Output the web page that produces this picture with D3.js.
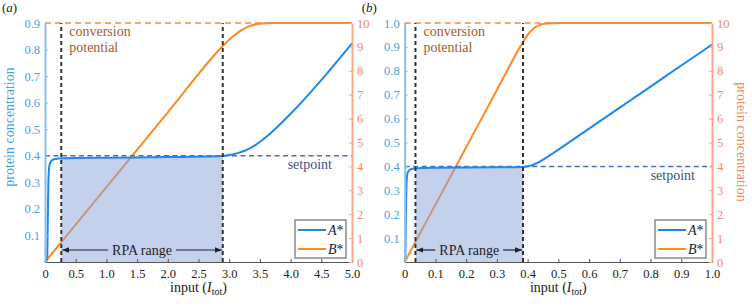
<!DOCTYPE html>
<html>
<head>
<meta charset="utf-8">
<script src="https://cdn.jsdelivr.net/npm/d3@7"></script>
<style>
  body { margin: 0; background: #fff; }
  svg, svg text { font-family: "Liberation Serif", "Times New Roman", serif; }
  svg { display: block; }
</style>
</head>
<body>
<div id="chart"></div>
<script>
const width = 752
const height = 306
const serif = '"Liberation Serif", "Times New Roman", serif'

// panel (a): input 0..5
const aInputA = [0, 0.035, 0.045, 0.055, 0.07, 0.1, 0.15, 0.3, 1.0, 2.0, 2.8, 2.95, 3.05, 3.15, 3.25, 3.35, 3.45, 3.55, 3.65, 3.8, 4.0, 4.5, 5.0]
const aValueA = [0, 0.01, 0.15, 0.3, 0.36, 0.38, 0.387, 0.391, 0.393, 0.395, 0.398, 0.401, 0.405, 0.411, 0.419, 0.43, 0.444, 0.461, 0.48, 0.512, 0.558, 0.685, 0.823]
const aInputB = [0, 1.0, 2.0, 2.9, 3.0, 3.1, 3.2, 3.3, 3.4, 3.5, 3.7, 4.0, 5.0]
const aValueB = [0, 3.13, 6.26, 9.05, 9.3, 9.52, 9.7, 9.84, 9.93, 9.97, 10, 10, 10]
const aRpa = [0.265, 2.895]
const aXTicks = [0, 0.5, 1.0, 1.5, 2.0, 2.5, 3.0, 3.5, 4.0, 4.5, 5.0]
const aLeftTicks = [0.1, 0.2, 0.3, 0.4, 0.5, 0.6, 0.7, 0.8, 0.9]

// panel (b): input 0..1
const bInputA = [0, 0.002, 0.004, 0.006, 0.009, 0.014, 0.022, 0.04, 0.1, 0.2, 0.3, 0.38, 0.4, 0.42, 0.44, 0.46, 0.48, 0.5, 0.6, 0.7, 0.8, 0.9, 1.0]
const bValueA = [0, 0.03, 0.2, 0.33, 0.37, 0.383, 0.389, 0.392, 0.394, 0.395, 0.396, 0.398, 0.401, 0.408, 0.42, 0.436, 0.453, 0.47, 0.558, 0.646, 0.734, 0.822, 0.91]
const bInputB = [0, 0.1, 0.2, 0.3, 0.385, 0.4, 0.42, 0.44, 0.46, 0.5, 1.0]
const bValueB = [0, 2.4, 4.8, 7.2, 9.2, 9.5, 9.78, 9.92, 9.98, 10, 10]
const bRpa = [0.035, 0.385]
const bXTicks = [0, 0.1, 0.2, 0.3, 0.4, 0.5, 0.6, 0.7, 0.8, 0.9, 1.0]
const bLeftTicks = [0.1, 0.2, 0.3, 0.4, 0.5, 0.6, 0.7, 0.8, 0.9, 1.0]

const rightTicks = [0, 1, 2, 3, 4, 5, 6, 7, 8, 9, 10]
const setpoint = 0.4
const conversionPotential = 10
const seriesNames = ['A', 'B']

const cA = '#1f87ee'
const cB = '#ff8a1f'
const cLeft = '#86c0e8'
const cLeftText = '#4a9fdc'
const cRight = '#f6a887'
const cRightText = '#f08a66'

const svg = d3.select('#chart').append('svg')
    .attr('width', width)
    .attr('height', height)
    .attr('font-family', serif)

const defs = svg.append('defs')
defs.append('marker')
    .attr('id', 'arrow')
    .attr('viewBox', '0 0 10 10')
    .attr('refX', 10).attr('refY', 5)
    .attr('markerWidth', 7).attr('markerHeight', 7)
    .attr('markerUnits', 'userSpaceOnUse')
    .attr('orient', 'auto-start-reverse')
    .append('path')
    .attr('d', 'M0,1 L10,5 L0,9 Z')
    .attr('fill', '#222')

function panel({ id, tag, left, right, top, bottom, xMax, yMax, inA, valA, inB, valB, rpa,
                 xTicks, leftTicks, titleSide, titleY, setpointRight }) {
    const x = d3.scaleLinear().domain([0, xMax]).range([left, right])
    const yL = d3.scaleLinear().domain([0, yMax]).range([bottom, top])
    const yR = d3.scaleLinear().domain([0, 10]).range([bottom, top])
    const g = svg.append('g').attr('class', 'panel-' + id)

    const ptsA = inA.map((v, i) => [v, valA[i]])
    const ptsB = inB.map((v, i) => [v, valB[i]])

    // B* line (under the shade)
    g.append('path')
        .datum(ptsB)
        .attr('fill', 'none')
        .attr('stroke', cB)
        .attr('stroke-width', 2)
        .attr('d', d3.line().x(d => x(d[0])).y(d => yR(d[1])).curve(d3.curveMonotoneX))

    // RPA shaded area under A*
    defs.append('clipPath').attr('id', 'clip-' + id)
        .append('rect')
        .attr('x', x(rpa[0])).attr('y', top)
        .attr('width', x(rpa[1]) - x(rpa[0])).attr('height', bottom - top)
    g.append('path')
        .datum(ptsA)
        .attr('clip-path', `url(#clip-${id})`)
        .attr('fill', '#8aa4dc')
        .attr('fill-opacity', 0.5)
        .attr('d', d3.area().x(d => x(d[0])).y0(bottom).y1(d => yL(d[1])).curve(d3.curveMonotoneX))

    // setpoint
    g.append('line')
        .attr('x1', x(0)).attr('x2', x(xMax))
        .attr('y1', yL(setpoint)).attr('y2', yL(setpoint))
        .attr('stroke', '#4a6cc4').attr('stroke-width', 1.5)
        .attr('stroke-dasharray', '5,3.5')
    // conversion potential
    g.append('line')
        .attr('x1', x(0)).attr('x2', x(xMax))
        .attr('y1', yR(conversionPotential)).attr('y2', yR(conversionPotential))
        .attr('stroke', '#f48a3c').attr('stroke-width', 1.5)
        .attr('stroke-dasharray', '6,4')

    // A* line
    g.append('path')
        .datum(ptsA)
        .attr('fill', 'none')
        .attr('stroke', cA)
        .attr('stroke-width', 2)
        .attr('d', d3.line().x(d => x(d[0])).y(d => yL(d[1])).curve(d3.curveMonotoneX))

    // RPA bounds
    g.selectAll('line.rpa').data(rpa).join('line')
        .attr('class', 'rpa')
        .attr('x1', d => x(d)).attr('x2', d => x(d))
        .attr('y1', bottom).attr('y2', top)
        .attr('stroke', '#333').attr('stroke-width', 2)
        .attr('stroke-dasharray', '4,3')

    // axes
    const fmt = d => d === 0 ? '0' : d3.format('.1f')(d)
    const ax = g.append('g')
        .attr('transform', `translate(0,${bottom})`)
        .call(d3.axisBottom(x).tickValues(xTicks).tickFormat(fmt).tickSize(-3).tickPadding(7))
        .attr('font-family', serif).attr('font-size', 12.5)
    ax.select('.domain').attr('stroke', '#555').attr('stroke-width', 1)
    ax.selectAll('.tick line').attr('stroke', '#555')
    ax.selectAll('text').attr('fill', '#222')

    const al = g.append('g')
        .attr('transform', `translate(${left},0)`)
        .call(d3.axisLeft(yL).tickValues(leftTicks).tickFormat(d3.format('.1f')).tickSize(-3).tickSizeOuter(0).tickPadding(5))
        .attr('font-family', serif).attr('font-size', 12.5)
    al.select('.domain').attr('stroke', cLeft).attr('stroke-width', 2)
    al.selectAll('.tick line').attr('stroke', cLeft)
    al.selectAll('text').attr('fill', cLeftText)

    const ar = g.append('g')
        .attr('transform', `translate(${right},0)`)
        .call(d3.axisRight(yR).tickValues(rightTicks).tickSize(-3).tickSizeOuter(0).tickPadding(5))
        .attr('font-family', serif).attr('font-size', 12.5)
    ar.select('.domain').attr('stroke', cRight).attr('stroke-width', 2)
    ar.selectAll('.tick line').attr('stroke', cRight)
    ar.selectAll('text').attr('fill', cRightText)

    // panel tag
    const t = g.append('text').attr('x', left - 43).attr('y', 12).attr('font-size', 13).attr('fill', '#222')
    t.append('tspan').text('(')
    t.append('tspan').attr('font-style', 'italic').text(tag)
    t.append('tspan').text(')')

    // x title
    const xt = g.append('text')
        .attr('x', (left + right) / 2).attr('y', 292)
        .attr('text-anchor', 'middle').attr('font-size', 14).attr('fill', '#222')
    xt.append('tspan').text('input (')
    xt.append('tspan').attr('font-style', 'italic').text('I')
    xt.append('tspan').attr('font-size', 10).attr('dy', 3).text('tot')
    xt.append('tspan').attr('dy', -3).text(')')

    // y title
    if (titleSide === 'left') {
        g.append('text')
            .attr('transform', `translate(14,${titleY}) rotate(-90)`)
            .attr('text-anchor', 'middle').attr('font-size', 14).attr('fill', cLeftText)
            .text('protein concentration')
    } else {
        g.append('text')
            .attr('transform', `translate(737,${titleY}) rotate(90)`)
            .attr('text-anchor', 'middle').attr('font-size', 14).attr('fill', cRightText)
            .text('protein concentration')
    }

    // annotations
    const cp = g.append('text').attr('font-size', 14).attr('fill', '#a65a2e')
    cp.append('tspan').attr('x', x(rpa[0]) + 8).attr('y', 36).text('conversion')
    cp.append('tspan').attr('x', x(rpa[0]) + 8).attr('y', 52).text('potential')

    g.append('text')
        .attr('x', right - setpointRight).attr('y', yL(setpoint) + 13.5)
        .attr('text-anchor', 'end').attr('font-size', 14).attr('fill', '#3d5089')
        .text('setpoint')

    const ay = 250
    const mid = (x(rpa[0]) + x(rpa[1])) / 2
    const lbl = g.append('text')
        .attr('x', mid).attr('y', ay + 5)
        .attr('text-anchor', 'middle').attr('font-size', 14).attr('fill', '#222')
        .text('RPA range')
    const w = lbl.node().getComputedTextLength()
    g.append('line')
        .attr('x1', mid - w / 2 - 4).attr('x2', x(rpa[0]) + 1)
        .attr('y1', ay).attr('y2', ay)
        .attr('stroke', '#222').attr('stroke-width', 1.2).attr('marker-end', 'url(#arrow)')
    g.append('line')
        .attr('x1', mid + w / 2 + 4).attr('x2', x(rpa[1]) - 1)
        .attr('y1', ay).attr('y2', ay)
        .attr('stroke', '#222').attr('stroke-width', 1.2).attr('marker-end', 'url(#arrow)')

    // legend
    const lw = 51, lh = 38
    const lg = g.append('g').attr('transform', `translate(${right - 6 - lw},${bottom - 4 - lh})`)
    lg.append('rect').attr('width', lw).attr('height', lh)
        .attr('fill', '#fff').attr('stroke', '#8a8a8a').attr('stroke-width', 1.5)
    seriesNames.forEach((s, i) => {
        const yy = 10 + i * 19
        lg.append('line').attr('x1', 3).attr('x2', 31).attr('y1', yy).attr('y2', yy)
            .attr('stroke', i === 0 ? cA : cB).attr('stroke-width', 2)
        const tx = lg.append('text').attr('x', 33).attr('y', yy + 5).attr('font-size', 14).attr('fill', '#222')
        tx.append('tspan').attr('font-style', 'italic').text(s)
        tx.append('tspan').text('*')
    })
}

panel({ id: 'a', tag: 'a', left: 45, right: 352, top: 23, bottom: 262, xMax: 5, yMax: 0.9,
        inA: aInputA, valA: aValueA, inB: aInputB, valB: aValueB, rpa: aRpa,
        xTicks: aXTicks, leftTicks: aLeftTicks, titleSide: 'left', titleY: 127, setpointRight: 20 })
panel({ id: 'b', tag: 'b', left: 404.7, right: 712, top: 23, bottom: 262, xMax: 1, yMax: 1.0,
        inA: bInputA, valA: bValueA, inB: bInputB, valB: bValueB, rpa: bRpa,
        xTicks: bXTicks, leftTicks: bLeftTicks, titleSide: 'right', titleY: 142, setpointRight: 17 })
</script>
</body>
</html>
